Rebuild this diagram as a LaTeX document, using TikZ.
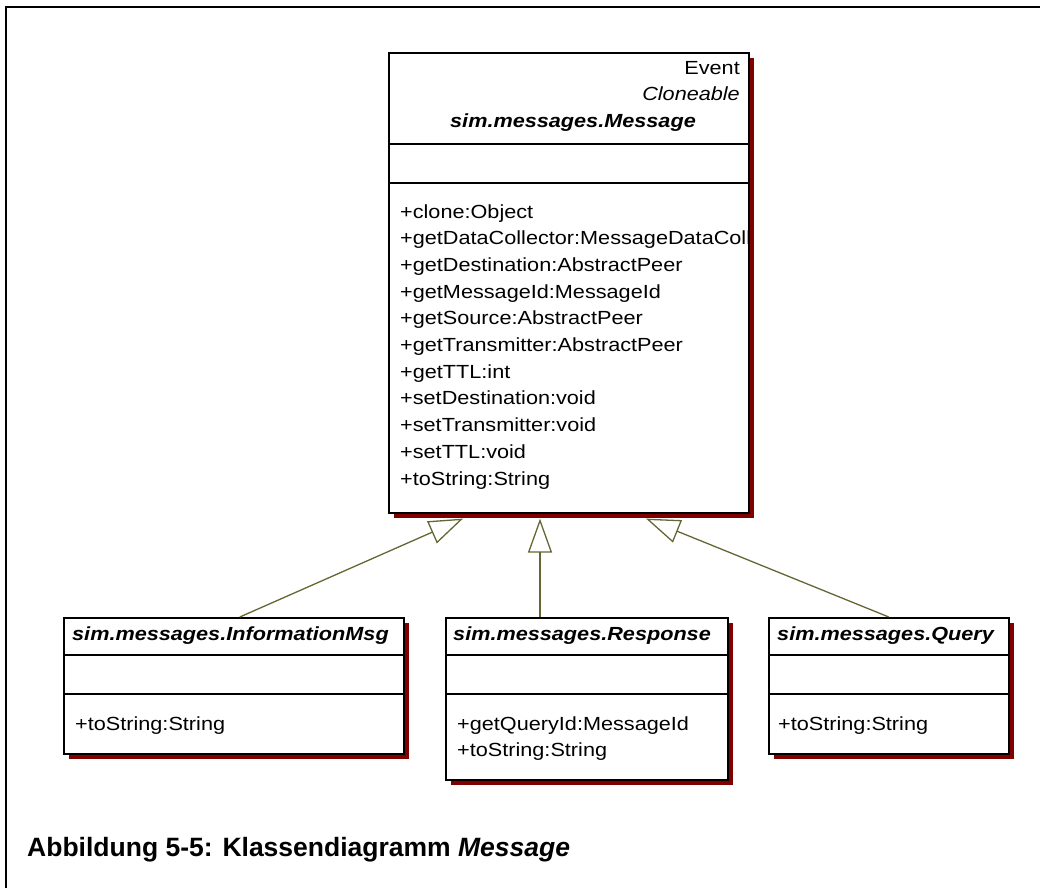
\documentclass[tikz,border=0pt]{standalone}
\usepackage{fontspec}
\setmainfont{Liberation Sans}
\newfontfamily\umlfont{Liberation Sans}[FakeStretch=1.14]
\usetikzlibrary{calc,shadows,arrows.meta}
\definecolor{shadowred}{RGB}{128,0,0}
\definecolor{linkolive}{RGB}{102,102,51}
\tikzstyle{classbox} = [rectangle, draw=black, line width=1.6pt, fill=white, anchor=north west, inner sep=0pt, drop shadow={fill=shadowred, opacity=1, shadow xshift=5pt, shadow yshift=-5pt}]
\tikzstyle{member} = [anchor=base west, inner sep=0pt, font=\umlfont\fontsize{19}{23}\selectfont]
\tikzstyle{classname} = [member, font=\umlfont\fontsize{19}{23}\selectfont\bfseries\itshape]
\tikzstyle{divider} = [line width=1.4pt]
\tikzstyle{inherit} = [draw=linkolive, line width=1.3pt, -{Triangle[open, length=34pt, width=24pt]}]

\begin{document}
\begin{tikzpicture}[x=1pt, y=-1pt]
  \useasboundingbox[fill=white] (0,0) rectangle (1040,888);
  \draw[line width=2pt] (6,888) -- (6,7) -- (1040,7);

  % super class
  \node (msg)[classbox, minimum width=360pt, minimum height=460pt] at (388,52) {};
  \draw[divider] ([yshift=-92pt]msg.north west) -- ([yshift=-92pt]msg.north east);
  \draw[divider] ([yshift=-131pt]msg.north west) -- ([yshift=-131pt]msg.north east);
  \node (event)[member, anchor=base east] at (740,75) {Event};
  \node (cloneable)[member, anchor=base east, font=\umlfont\fontsize{19}{23}\selectfont\itshape] at (740,101) {Cloneable};
  \node (msgname)[classname, anchor=base] at (573,128) {sim.messages.Message};
  \begin{scope}
    \clip ([xshift=1pt]msg.north west) rectangle ([xshift=-1pt]msg.south east);
    \foreach \m [count=\i from 0] in {+clone:Object, +getDataCollector:MessageDataCollector,
        +getDestination:AbstractPeer, +getMessageId:MessageId, +getSource:AbstractPeer,
        +getTransmitter:AbstractPeer, +getTTL:int, +setDestination:void,
        +setTransmitter:void, +setTTL:void, +toString:String}
      \node (msgop\i)[member] at (400,{218+26.7*\i}) {\m};
  \end{scope}

  % sub classes
  \node (info)[classbox, minimum width=340pt, minimum height=136pt] at (63,617) {};
  \node (resp)[classbox, minimum width=282pt, minimum height=162pt] at (445,617) {};
  \node (query)[classbox, minimum width=240pt, minimum height=136pt] at (768,617) {};
  \foreach \b in {info,resp,query}
    \foreach \d in {38,77}
      \draw[divider] ([yshift=-\d pt]\b.north west) -- ([yshift=-\d pt]\b.north east);

  \node (infoname)[classname] at (72,640) {sim.messages.InformationMsg};
  \node (respname)[classname] at (453,640) {sim.messages.Response};
  \node (queryname)[classname] at (777,640) {sim.messages.Query};
  \node (infoop)[member] at (75,730) {+toString:String};
  \node (respop1)[member] at (457,730) {+getQueryId:MessageId};
  \node (respop2)[member] at (457,756) {+toString:String};
  \node (queryop)[member] at (778,730) {+toString:String};

  % generalisations
  \coordinate (tipI) at ($(msg.south west)+(75,5)$);
  \coordinate (tipR) at ($(msg.south west)+(152,5)$);
  \coordinate (tipQ) at ($(msg.south west)+(258,5)$);
  \draw[inherit] ($(info.north)+(6,0)$) -- (tipI);
  \draw[inherit] ($(resp.north west)+(95,0)$) -- (tipR);
  \draw[inherit] (query.north) -- (tipQ);

  \node (caption)[anchor=base west, inner sep=0pt, font=\fontsize{26.5}{30}\selectfont\bfseries] at (27,856) {Abbildung 5-5: Klassendiagramm \textit{Message}};
\end{tikzpicture}
\end{document}
